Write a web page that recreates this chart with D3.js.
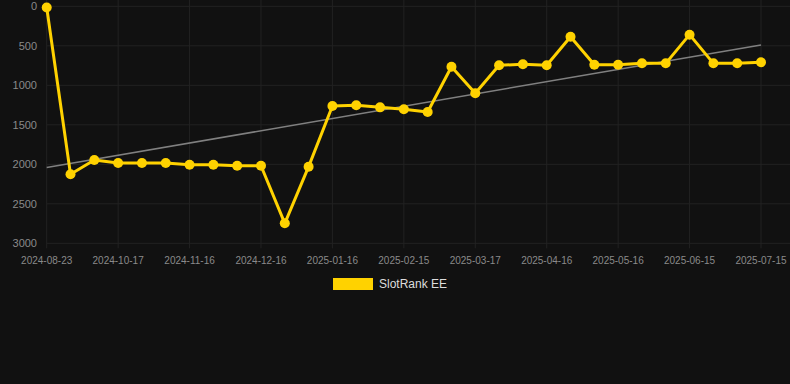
<!DOCTYPE html>
<html>
<head>
<meta charset="utf-8">
<script src="https://cdn.jsdelivr.net/npm/d3@7"></script>
<style>
  html, body { margin: 0; padding: 0; background: #111111; }
  svg { display: block; font-family: "Liberation Sans", Arial, sans-serif; }
</style>
</head>
<body>
<div id="chart"></div>
<script>
var dates = ['2024-08-23', '2024-09-27', '2024-10-07', '2024-10-17', '2024-10-27', '2024-11-06',
             '2024-11-16', '2024-11-26', '2024-12-06', '2024-12-16', '2024-12-26', '2025-01-06',
             '2025-01-16', '2025-01-26', '2025-02-05', '2025-02-15', '2025-02-25', '2025-03-07',
             '2025-03-17', '2025-03-27', '2025-04-06', '2025-04-16', '2025-04-26', '2025-05-06',
             '2025-05-16', '2025-05-26', '2025-06-05', '2025-06-15', '2025-06-25', '2025-07-05',
             '2025-07-15'];
var ranks = [15, 2127, 1946, 1984, 1984, 1984, 2005, 2005, 2018, 2018, 2747, 2030,
             1262, 1253, 1279, 1304, 1338, 765, 1101, 747, 734, 747, 385, 739,
             739, 722, 722, 359, 722, 722, 709];
var yTicks = [0, 500, 1000, 1500, 2000, 2500, 3000];
var seriesName = 'SlotRank EE';

var col_bg    = '#111111';
var col_grid  = '#222222';
var col_text  = '#8a8a8a';
var col_line  = '#FFD200';
var col_trend = '#808080';

var width = 790, height = 384;
var plotLeft = 46.7, plotRight = 790, plotTop = 6.3, plotBottom = 243.3;
var xFirst = 46.7, xLast = 761;

var svg = d3.select('#chart').append('svg')
    .attr('width', width)
    .attr('height', height)
    .style('background', col_bg);

var x = d3.scaleLinear().domain([0, dates.length - 1]).range([xFirst, xLast]);
var y = d3.scaleLinear().domain([0, 3000]).range([plotTop, plotBottom]);

// grid
var xTickIdx = d3.range(0, dates.length, 3);
svg.append('g').selectAll('line').data(yTicks).enter().append('line')
    .attr('x1', plotLeft).attr('x2', plotRight)
    .attr('y1', function(d) { return y(d); }).attr('y2', function(d) { return y(d); })
    .attr('stroke', col_grid).attr('stroke-width', 1);
svg.append('g').selectAll('line').data(xTickIdx).enter().append('line')
    .attr('x1', function(d) { return x(d); }).attr('x2', function(d) { return x(d); })
    .attr('y1', 0).attr('y2', plotBottom + 5)
    .attr('stroke', col_grid).attr('stroke-width', 1);

// y labels
svg.append('g').selectAll('text').data(yTicks).enter().append('text')
    .attr('x', 37)
    .attr('y', function(d) { return y(d); })
    .attr('dy', '0.35em')
    .attr('text-anchor', 'end')
    .style('font-size', '11px')
    .style('fill', col_text)
    .text(function(d) { return d; });

// x labels
svg.append('g').selectAll('text').data(xTickIdx).enter().append('text')
    .attr('x', function(d) { return x(d); })
    .attr('y', 260)
    .attr('dy', '0.35em')
    .attr('text-anchor', 'middle')
    .style('font-size', '10px')
    .style('fill', col_text)
    .text(function(d) { return dates[d]; });

// trend line (least squares)
var n = ranks.length;
var mx = d3.mean(ranks, function(d, i) { return i; });
var my = d3.mean(ranks);
var sxy = d3.sum(ranks, function(d, i) { return (i - mx) * (d - my); });
var sxx = d3.sum(ranks, function(d, i) { return (i - mx) * (i - mx); });
var slope = sxy / sxx;
var icpt = my - slope * mx;
svg.append('line')
    .attr('x1', x(0)).attr('y1', y(icpt))
    .attr('x2', x(n - 1)).attr('y2', y(icpt + slope * (n - 1)))
    .attr('stroke', col_trend).attr('stroke-width', 1.5);

// series
var line = d3.line()
    .x(function(d, i) { return x(i); })
    .y(function(d) { return y(d); });
svg.append('path')
    .datum(ranks)
    .attr('d', line)
    .attr('fill', 'none')
    .attr('stroke', col_line)
    .attr('stroke-width', 3)
    .attr('stroke-linejoin', 'round');
svg.append('g').selectAll('circle').data(ranks).enter().append('circle')
    .attr('cx', function(d, i) { return x(i); })
    .attr('cy', function(d) { return y(d); })
    .attr('r', 5)
    .attr('fill', col_line);

// legend
svg.append('rect')
    .attr('x', 333).attr('y', 278)
    .attr('width', 40).attr('height', 12)
    .attr('fill', col_line);
svg.append('text')
    .attr('x', 379).attr('y', 284)
    .attr('dy', '0.35em')
    .style('font-size', '12px')
    .style('fill', '#dddddd')
    .text(seriesName);
</script>
</body>
</html>
